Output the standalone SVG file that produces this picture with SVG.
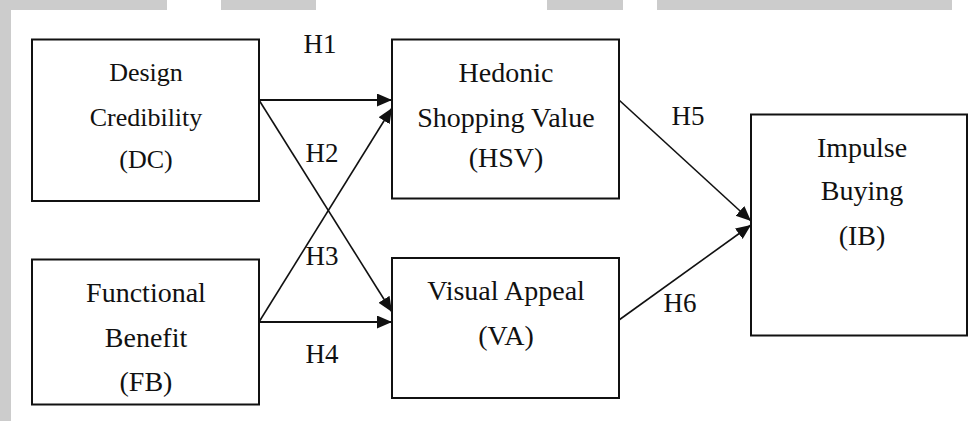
<svg xmlns="http://www.w3.org/2000/svg" width="969" height="421" viewBox="0 0 969 421">
<style>
.bg{fill:#cccccc}
.box{fill:#ffffff;stroke:#111111;stroke-width:2}
.t{font-family:"Liberation Serif","Times New Roman",serif;fill:#111111;text-anchor:middle}
.n{font-size:28px}
.s{font-size:26px}
.h{font-size:27px}
.c{stroke:#111111;fill:none;stroke-width:1.6}
.c2{stroke:#111111;fill:none;stroke-width:2}
</style>
<defs>
<marker id="ah" markerUnits="userSpaceOnUse" markerWidth="16" markerHeight="14" refX="15" refY="6.5" orient="auto">
<path d="M0,0 L15,6.5 L0,13 z" fill="#111111"/>
</marker>
</defs>
<rect width="969" height="421" fill="#ffffff"/>
<g id="background">
<rect class="bg" x="0" y="0" width="167" height="10"/>
<rect class="bg" x="221" y="0" width="95" height="10"/>
<rect class="bg" x="547" y="0" width="76" height="10"/>
<rect class="bg" x="657" y="0" width="295" height="10"/>
<rect class="bg" x="0" y="10" width="11" height="411"/>
</g>
<g id="connectors">
<line class="c2" x1="259" y1="100" x2="392" y2="100" marker-end="url(#ah)"/>
<line class="c" x1="259" y1="100" x2="392" y2="312" marker-end="url(#ah)"/>
<line class="c" x1="259" y1="322" x2="392" y2="108" marker-end="url(#ah)"/>
<line class="c2" x1="259" y1="322" x2="392" y2="322" marker-end="url(#ah)"/>
<line class="c" x1="619" y1="100" x2="751" y2="221" marker-end="url(#ah)"/>
<line class="c" x1="619" y1="320" x2="751" y2="225" marker-end="url(#ah)"/>
<text class="t h" x="320" y="53">H1</text>
<text class="t h" x="322" y="162">H2</text>
<text class="t h" x="322" y="265">H3</text>
<text class="t h" x="322" y="363">H4</text>
<text class="t h" x="688" y="125">H5</text>
<text class="t h" x="680" y="312">H6</text>
</g>
<g id="DC">
<rect class="box" x="32" y="39.5" width="227" height="161.5"/>
<text class="t s" x="146" y="81">Design</text>
<text class="t s" x="146" y="126">Credibility</text>
<text class="t s" x="146" y="168">(DC)</text>
</g>
<g id="FB">
<rect class="box" x="32" y="259.5" width="227" height="145"/>
<text class="t n" x="146" y="301.5">Functional</text>
<text class="t n" x="146" y="346.5">Benefit</text>
<text class="t n" x="146" y="390.5">(FB)</text>
</g>
<g id="HSV">
<rect class="box" x="392" y="39.5" width="227" height="159"/>
<text class="t n" x="506" y="82">Hedonic</text>
<text class="t n" x="506" y="126.5">Shopping Value</text>
<text class="t n" x="506" y="166.5">(HSV)</text>
</g>
<g id="VA">
<rect class="box" x="392" y="258" width="227" height="140"/>
<text class="t n" x="506" y="300">Visual Appeal</text>
<text class="t n" x="506" y="345">(VA)</text>
</g>
<g id="IB">
<rect class="box" x="751" y="114.5" width="216" height="221"/>
<text class="t n" x="862" y="157">Impulse</text>
<text class="t n" x="862" y="200">Buying</text>
<text class="t n" x="862" y="245">(IB)</text>
</g>
</svg>
